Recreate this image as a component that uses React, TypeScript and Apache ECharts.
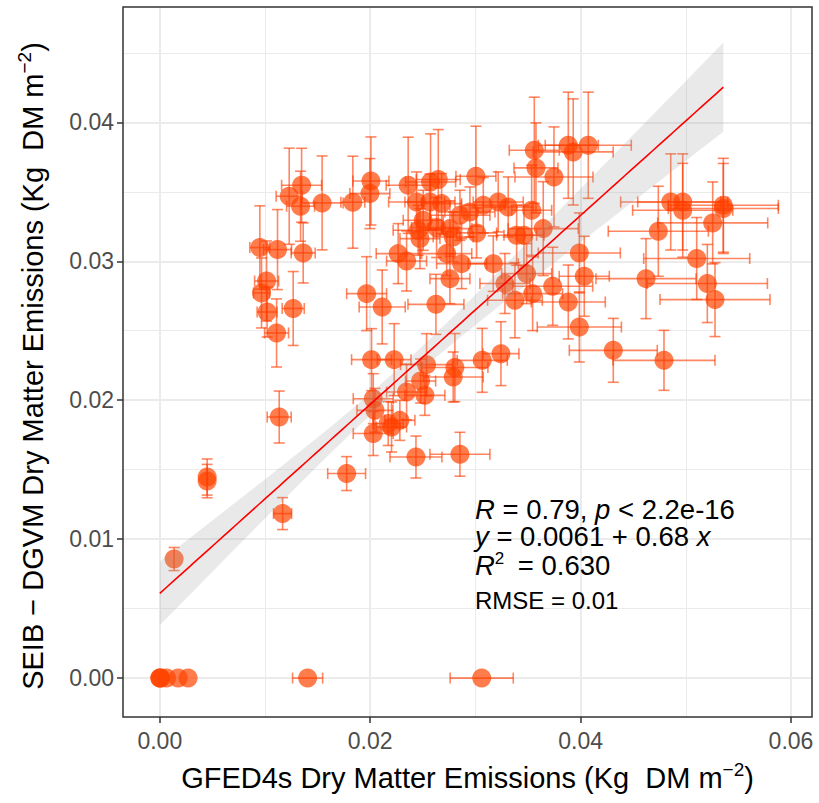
import React, { useEffect, useRef } from 'react';
import * as echarts from 'echarts';

// GFED4s dry matter emissions (x) and SEIB-DGVM dry matter emissions (y), Kg DM m-2
const GFED_X = [
  0, 0, 0.0001, 0.00064, 0.00174, 0.00269, 0.01405, 0.0306,
  0.00136, 0.0045, 0.0045, 0.01167, 0.01135, 0.01776, 0.02435, 0.02853,
  0.02013, 0.02228, 0.02536, 0.02805, 0.02789, 0.03065, 0.03243, 0.02479,
  0.02346, 0.0252, 0.02029, 0.02045, 0.02171, 0.02282, 0.02203, 0.02029,
  0.00951, 0.01119, 0.01363, 0.01015, 0.00967, 0.0102, 0.01268, 0.0111,
  0.01348, 0.0123, 0.01338, 0.01543, 0.01835, 0.02007, 0.01997, 0.02361,
  0.02574, 0.02647, 0.03005, 0.02441, 0.02568, 0.02679, 0.02853, 0.02948,
  0.03075, 0.03217, 0.03312, 0.02504, 0.02631, 0.02456, 0.02758, 0.03012,
  0.02473, 0.02789, 0.03392, 0.02266, 0.02346, 0.02727, 0.02869, 0.0317,
  0.02758, 0.03281, 0.03376, 0.01966, 0.02114, 0.02625, 0.0356, 0.03883,
  0.0393, 0.04073, 0.03576, 0.03747, 0.03535, 0.03462, 0.03645, 0.03487,
  0.03988, 0.04035, 0.03735, 0.03544, 0.03883, 0.03988, 0.04311, 0.04793,
  0.04857, 0.04971, 0.04971, 0.05357, 0.05357, 0.04739, 0.05256, 0.05104,
  0.04622, 0.05205, 0.05278,
];
const SEIB_Y = [
  0, 0, 0, 0, 0, 0, 0, 0,
  0.00857, 0.01447, 0.01418, 0.01184, 0.01879, 0.01472, 0.01591, 0.01611,
  0.02292, 0.02292, 0.02256, 0.02235, 0.02167, 0.02287, 0.02335, 0.02138,
  0.02059, 0.02035, 0.02011, 0.01927, 0.01832, 0.01855, 0.01807, 0.0176,
  0.03099, 0.03084, 0.0306, 0.02858, 0.02772, 0.02635, 0.0266, 0.02484,
  0.03547, 0.03468, 0.03396, 0.0342, 0.03425, 0.03578, 0.03487, 0.03547,
  0.03571, 0.03588, 0.03612, 0.03427, 0.03427, 0.03415, 0.03331, 0.03355,
  0.03403, 0.03427, 0.03391, 0.03295, 0.03243, 0.03223, 0.03235, 0.03204,
  0.03163, 0.03175, 0.03187, 0.03055, 0.03002, 0.03055, 0.02983, 0.02983,
  0.02875, 0.0284, 0.02719, 0.02767, 0.02671, 0.0269, 0.03799, 0.03835,
  0.03787, 0.03835, 0.03672, 0.03607, 0.03367, 0.03187, 0.03235, 0.02911,
  0.0306, 0.02892, 0.0282, 0.02767, 0.02707, 0.02527, 0.02359, 0.02287,
  0.03427, 0.03427, 0.03367, 0.03403, 0.0338, 0.03216, 0.03276, 0.0302,
  0.02875, 0.0284, 0.02724,
];
// half-widths of the error bars
const GFED_ERR = [
  0, 0, 0, 0, 0, 0, 0.00143, 0.003,
  0, 0, 0, 0.00086, 0.00114, 0.0018, 0.00247, 0.00285,
  0.0019, 0.0016, 0.00247, 0.00314, 0.00285, 0.00238, 0.00171, 0.00143,
  0.0019, 0.0019, 0.0019, 0.00171, 0.00143, 0.00143, 0.00143, 0.0019,
  0.00095, 0.00133, 0.00114, 0.00114, 0.00076, 0.00095, 0.00105, 0.00114,
  0.0019, 0.00124, 0.00133, 0.002, 0.00114, 0.00171, 0.0019, 0.00209,
  0.00238, 0.00209, 0.0019, 0.00266, 0.00238, 0.0019, 0.00285, 0.00238,
  0.00209, 0.00238, 0.00238, 0.0019, 0.00238, 0.00238, 0.00209, 0.0019,
  0.0019, 0.0019, 0.0019, 0.00209, 0.0019, 0.00238, 0.00238, 0.00238,
  0.0019, 0.00238, 0.0026, 0.0019, 0.00219, 0.00266, 0.00238, 0.00285,
  0.0038, 0.00409, 0.00209, 0.00371, 0.0019, 0.0019, 0.00333, 0.00238,
  0.0039, 0.00238, 0.0038, 0.00285, 0.00352, 0.004, 0.00418, 0.00485,
  0.00476, 0.00428, 0.00476, 0.00523, 0.00523, 0.00476, 0.00523, 0.00504,
  0.00476, 0.00571, 0.00523,
];
const SEIB_ERR = [
  0, 0, 0, 0, 0, 0, 0, 0,
  0.00083, 0.0013, 0.0012, 0.00115, 0.00187, 0.00122, 0.00151, 0.00158,
  0.00223, 0.00259, 0.00223, 0.00245, 0.0018, 0.0023, 0.0023, 0.00158,
  0.002, 0.00144, 0.0018, 0.00158, 0.00158, 0.00144, 0.0018, 0.00158,
  0.003, 0.00288, 0.00216, 0.00288, 0.00252, 0.0018, 0.00266, 0.00245,
  0.00266, 0.00346, 0.00252, 0.00338, 0.00331, 0.00317, 0.00252, 0.00346,
  0.00346, 0.0036, 0.0036, 0.00216, 0.002, 0.00216, 0.0018, 0.0018,
  0.002, 0.00216, 0.00216, 0.00216, 0.00216, 0.0018, 0.002, 0.0018,
  0.00216, 0.0018, 0.00216, 0.00216, 0.00216, 0.00158, 0.0018, 0.002,
  0.0018, 0.00216, 0.0027, 0.00266, 0.00266, 0.00216, 0.00382, 0.00382,
  0.00382, 0.00382, 0.00324, 0.0036, 0.00324, 0.00216, 0.00338, 0.00216,
  0.00288, 0.00288, 0.00281, 0.00266, 0.00266, 0.00252, 0.0023, 0.00216,
  0.00346, 0.00346, 0.00338, 0.00338, 0.00324, 0.00324, 0.00295, 0.00295,
  0.00288, 0.00281, 0.00266,
];

const X_TICKS = [0, 0.02, 0.04, 0.06];
const Y_TICKS = [0, 0.01, 0.02, 0.03, 0.04];
const X_RANGE = [-0.0035, 0.062];
const Y_RANGE = [-0.0028, 0.0483];

// linear fit y = a + b x and its 95% confidence band (summary)
const FIT_INTERCEPT = 0.0061;
const FIT_SLOPE = 0.68;
const FIT_X_MEAN = 0.022;
const CI_HALF_AT_MEAN = 0.00076;
const CI_SLOPE_TERM = 0.0987;

const X_TITLE = ['GFED4s Dry Matter Emissions (Kg  DM m', '\u22122', ')'];
const Y_TITLE = ['SEIB \u2212 DGVM Dry Matter Emissions (Kg  DM m', '\u22122', ')'];
const STAT_LINES = [
  '{i1|R}{n1| = 0.79, }{i1|p}{n1| < 2.2e-16}',
  '{i2|y}{n2| = 0.0061 + 0.68 }{i2|x}',
  '{i3|R}{s3|2}{n3|= 0.630}',
  '{r4|RMSE = 0.01}',
];

const FONT = '"Liberation Sans", Arial, Helvetica, sans-serif';
const POINT_COLOR = '#FF4500';
const BAR_COLOR = 'rgba(255,60,0,0.62)';

const GRID = { left: 123, top: 7, width: 689, height: 710 };

export default function App() {
  const ref = useRef<HTMLDivElement>(null);

  useEffect(() => {
    if (!ref.current) return;
    const chart = echarts.init(ref.current, null, { renderer: 'svg' });

    const points = GFED_X.map((x, i) => [x, SEIB_Y[i]]);
    const bars = GFED_X.map((x, i) => [x, SEIB_Y[i], GFED_ERR[i], SEIB_ERR[i]]);

    const xLo = Math.min(...GFED_X);
    const xHi = Math.max(...GFED_X);
    const steps = 80;
    const band: number[][] = [];
    for (let i = 0; i <= steps; i++) {
      const x = xLo + ((xHi - xLo) * i) / steps;
      const yhat = FIT_INTERCEPT + FIT_SLOPE * x;
      const d = CI_SLOPE_TERM * (x - FIT_X_MEAN);
      const h = Math.sqrt(CI_HALF_AT_MEAN * CI_HALF_AT_MEAN + d * d);
      band.push([x, yhat, yhat - h, yhat + h]);
    }

    const CAP = 5.5;
    const titleRich = {
      a: { fontSize: 29, fontFamily: FONT, fill: '#000', lineHeight: 36 },
      s: { fontSize: 19, fontFamily: FONT, fill: '#000', lineHeight: 22, verticalAlign: 'top' },
    };
    const base = { fontSize: 27.5, fontFamily: FONT, fill: '#000' };
    const statRich = {
      n1: { ...base, lineHeight: 26 },
      i1: { ...base, lineHeight: 26, fontStyle: 'italic' },
      n2: { ...base, lineHeight: 28 },
      i2: { ...base, lineHeight: 28, fontStyle: 'italic' },
      i3: { ...base, lineHeight: 31.5, fontStyle: 'italic' },
      s3: { fontSize: 17, fontFamily: FONT, fill: '#000', lineHeight: 17, verticalAlign: 'top', width: 23 },
      n3: { ...base, lineHeight: 31.5 },
      r4: { fontSize: 24, fontFamily: FONT, fill: '#000', lineHeight: 37 },
    };

    chart.setOption({
      animation: false,
      backgroundColor: '#fff',
      grid: { ...GRID, show: false, containLabel: false },
      xAxis: {
        type: 'value',
        min: X_RANGE[0],
        max: X_RANGE[1],
        splitNumber: 3,
        axisLine: { show: false, onZero: false },
        axisTick: { show: true, length: 6, customValues: X_TICKS, lineStyle: { color: '#333', width: 1.5 } },
        axisLabel: {
          customValues: X_TICKS,
          formatter: (v: number) => v.toFixed(2),
          color: '#4D4D4D',
          fontSize: 23,
          fontFamily: FONT,
          margin: 12,
        },
        splitLine: { show: true, lineStyle: { color: '#EBEBEB', width: 2 } },
        minorTick: { show: false, splitNumber: 2 },
        minorSplitLine: { show: true, lineStyle: { color: '#EBEBEB', width: 1 } },
      },
      yAxis: {
        type: 'value',
        min: Y_RANGE[0],
        max: Y_RANGE[1],
        splitNumber: 5,
        axisLine: { show: false, onZero: false },
        axisTick: { show: true, length: 6, customValues: Y_TICKS, lineStyle: { color: '#333', width: 1.5 } },
        axisLabel: {
          customValues: Y_TICKS,
          formatter: (v: number) => v.toFixed(2),
          color: '#4D4D4D',
          fontSize: 23,
          fontFamily: FONT,
          margin: 9,
        },
        splitLine: { show: true, lineStyle: { color: '#EBEBEB', width: 2 } },
        minorTick: { show: false, splitNumber: 2 },
        minorSplitLine: { show: true, lineStyle: { color: '#EBEBEB', width: 1 } },
      },
      series: [
        {
          type: 'scatter',
          data: points,
          symbol: 'circle',
          symbolSize: 19,
          itemStyle: { color: POINT_COLOR, opacity: 0.7 },
          silent: true,
          z: 2,
        },
        {
          type: 'custom',
          data: bars,
          encode: { x: 0, y: 1 },
          silent: true,
          clip: true,
          z: 3,
          renderItem: (params: any, api: any) => {
            const x = api.value(0);
            const y = api.value(1);
            const ex = api.value(2);
            const ey = api.value(3);
            const style = { stroke: BAR_COLOR, lineWidth: 1.6, fill: null };
            const children: any[] = [];
            if (ey > 0) {
              const t = api.coord([x, y + ey]);
              const b = api.coord([x, y - ey]);
              children.push({ type: 'line', shape: { x1: t[0], y1: t[1], x2: b[0], y2: b[1] }, style });
              children.push({ type: 'line', shape: { x1: t[0] - CAP, y1: t[1], x2: t[0] + CAP, y2: t[1] }, style });
              children.push({ type: 'line', shape: { x1: b[0] - CAP, y1: b[1], x2: b[0] + CAP, y2: b[1] }, style });
            }
            if (ex > 0) {
              const l = api.coord([x - ex, y]);
              const r = api.coord([x + ex, y]);
              children.push({ type: 'line', shape: { x1: l[0], y1: l[1], x2: r[0], y2: r[1] }, style });
              children.push({ type: 'line', shape: { x1: l[0], y1: l[1] - CAP, x2: l[0], y2: l[1] + CAP }, style });
              children.push({ type: 'line', shape: { x1: r[0], y1: r[1] - CAP, x2: r[0], y2: r[1] + CAP }, style });
            }
            return { type: 'group', children };
          },
        },
        {
          type: 'custom',
          data: band,
          encode: { x: 0, y: 1 },
          silent: true,
          z: 4,
          renderItem: (params: any, api: any) => {
            if (params.dataIndex !== 0) return null;
            const upper = band.map((d) => api.coord([d[0], d[3]]));
            const lower = band.map((d) => api.coord([d[0], d[2]])).reverse();
            return {
              type: 'polygon',
              shape: { points: upper.concat(lower) },
              style: { fill: 'rgba(153,153,153,0.22)', stroke: null },
            };
          },
        },
        {
          type: 'line',
          data: band.map((d) => [d[0], d[1]]),
          showSymbol: false,
          symbol: 'none',
          silent: true,
          z: 5,
          lineStyle: { color: '#FF0000', width: 1.6 },
        },
      ],
      graphic: [
        {
          type: 'rect',
          silent: true,
          z: 100,
          shape: { x: GRID.left, y: GRID.top, width: GRID.width, height: GRID.height },
          style: { fill: null, stroke: '#333333', lineWidth: 1.5 },
        },
        {
          type: 'text',
          silent: true,
          z: 100,
          x: GRID.left + GRID.width / 2,
          y: 778,
          style: {
            text: `{a|${X_TITLE[0]}}{s|${X_TITLE[1]}}{a|${X_TITLE[2]}}`,
            rich: titleRich,
            align: 'center',
            verticalAlign: 'middle',
          },
        },
        {
          type: 'text',
          silent: true,
          z: 100,
          x: 33,
          y: GRID.top + GRID.height / 2 + 4,
          rotation: Math.PI / 2,
          style: {
            text: `{a|${Y_TITLE[0]}}{s|${Y_TITLE[1]}}{a|${Y_TITLE[2]}}`,
            rich: titleRich,
            align: 'center',
            verticalAlign: 'middle',
          },
        },
        {
          type: 'text',
          silent: true,
          z: 100,
          x: 475,
          y: 496,
          style: {
            text: STAT_LINES.join('\n'),
            rich: statRich,
            verticalAlign: 'top',
            align: 'left',
          },
        },
      ],
    });

    return () => chart.dispose();
  }, []);

  return (
    <div
      ref={ref}
      style={{ position: 'absolute', left: 0, top: 0, width: 819, height: 803, background: '#fff' }}
    />
  );
}
